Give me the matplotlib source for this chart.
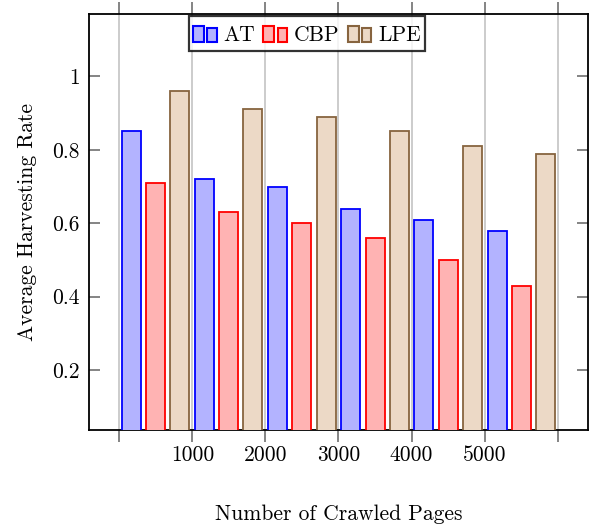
import matplotlib
matplotlib.use("Agg")
from matplotlib import pyplot as plt
from matplotlib.legend_handler import HandlerBase
from matplotlib.patches import Rectangle

# data
pages = [500, 1500, 2500, 3500, 4500, 5500]
series = ["AT", "CBP", "LPE"]
at = [0.85, 0.72, 0.70, 0.64, 0.61, 0.58]
cbp = [0.71, 0.63, 0.60, 0.56, 0.50, 0.43]
lpe = [0.96, 0.91, 0.89, 0.85, 0.81, 0.79]
xticks = [0, 1000, 2000, 3000, 4000, 5000, 6000]
xticklabels = ["", "1000", "2000", "3000", "4000", "5000", ""]
yticks = [0.2, 0.4, 0.6, 0.8, 1.0]
yticklabels = ["0.2", "0.4", "0.6", "0.8", "1"]

plt.rcParams['font.family'] = ['cmr10', 'DejaVu Serif']
plt.rcParams['axes.formatter.use_mathtext'] = True

fills = [(0.7, 0.7, 1.0), (1.0, 0.7, 0.7), (0.925, 0.85, 0.775)]
edges = ["#0000ff", "#ff0000", "#87643f"]
fs = 15.5


class TwoBars(HandlerBase):
    # pgfplots-style ybar legend image: two small bars
    def create_artists(self, legend, orig, xd, yd, width, height, fontsize, trans):
        w = width * 0.44
        base = -yd + 0.18 * height
        r1 = Rectangle((-xd, base), w, height * 0.62,
                       facecolor=orig.get_facecolor(), edgecolor=orig.get_edgecolor(),
                       linewidth=1.5, transform=trans)
        r2 = Rectangle((-xd + width * 0.58, base), w * 0.85, height * 0.52,
                       facecolor=orig.get_facecolor(), edgecolor=orig.get_edgecolor(),
                       linewidth=1.5, transform=trans)
        return [r1, r2]


fig = plt.figure(figsize=(5.95, 5.26), dpi=100)
ax = fig.add_axes([0.1496, 0.1825, 0.8386, 0.7909])

bw = 260
off = 330
handles = []
for i, vals in enumerate([at, cbp, lpe]):
    xs = [p + (i - 1) * off for p in pages]
    b = ax.bar(xs, vals, width=bw, color=fills[i], edgecolor=edges[i],
               linewidth=1.3, label=series[i], zorder=3)
    handles.append(b.patches[0])

ax.set_xlim(-414, 6414)
ax.set_ylim(0.037, 1.17)
ax.set_xticks(xticks)
ax.set_xticklabels(xticklabels)
ax.set_yticks(yticks)
ax.set_yticklabels(yticklabels)
ax.grid(axis='x', color='#c8c8c8', linewidth=1.3, zorder=0)
ax.tick_params(axis='x', direction='out', length=8.5, width=1.2, color='#707070',
               top=True, labelsize=fs, pad=3)
ax.tick_params(axis='y', direction='in', length=8, width=1.2, color='#707070',
               right=True, labelsize=fs, pad=6.5)
for s in ax.spines.values():
    s.set_linewidth(1.3)

ax.set_xlabel("Number of Crawled Pages", fontsize=fs, labelpad=28)
ax.set_ylabel("Average Harvesting Rate", fontsize=fs, labelpad=11)

leg = ax.legend(handles, series, loc='upper left', bbox_to_anchor=(0.2, 0.995),
                ncol=3, fontsize=fs, frameon=True, fancybox=False,
                handler_map={h: TwoBars() for h in handles},
                handlelength=1.15, handleheight=1.5, handletextpad=0.25,
                columnspacing=0.4, borderpad=0.2, borderaxespad=0)
leg.get_frame().set_edgecolor('black')
leg.get_frame().set_linewidth(1.6)

fig.savefig("out.png", dpi=100)
